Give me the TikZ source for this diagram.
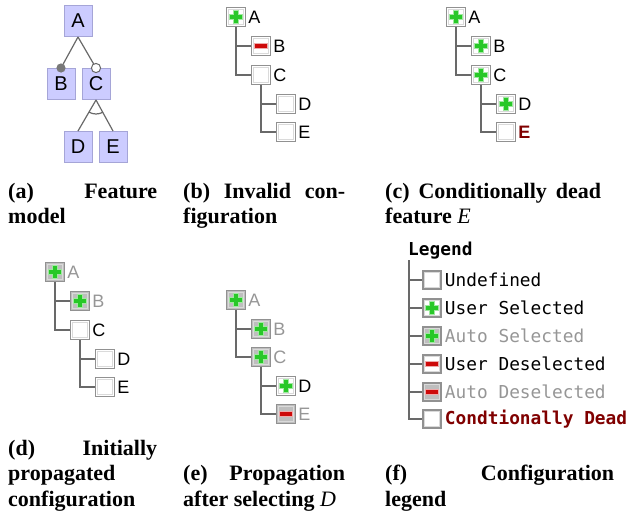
\documentclass[tikz,border=0pt]{standalone}
\usepackage{fontspec}
\setmainfont{Liberation Serif}
\setsansfont{Liberation Sans}
\setmonofont{DejaVu Sans Mono}
\usetikzlibrary{positioning}

\definecolor{fmfill}{RGB}{204,204,255}
\definecolor{fmedge}{RGB}{165,165,215}
\definecolor{linegray}{RGB}{105,105,105}
\definecolor{boxedge}{RGB}{145,145,145}
\definecolor{boxinner}{RGB}{218,218,218}
\definecolor{autofill}{RGB}{190,190,190}
\definecolor{plusgreen}{RGB}{40,200,40}
\definecolor{plushalo}{RGB}{160,232,160}
\definecolor{minusred}{RGB}{205,10,10}
\definecolor{minushalo}{RGB}{238,170,170}
\definecolor{autotext}{RGB}{150,150,150}
\definecolor{deadred}{RGB}{128,0,0}

\begin{document}
\begin{tikzpicture}[
        x=1pt, y=-1pt,
        feat/.style={draw=fmedge, fill=fmfill, line width=1pt, minimum width=28pt,
            minimum height=31pt, inner sep=0pt, font=\sffamily\fontsize{20}{20}\selectfont},
        fmline/.style={draw=linegray, line width=1.2pt},
        chk/.style={draw=boxedge, line width=1.5pt, fill=white, minimum size=19pt, inner sep=0pt},
        undef/.style={chk, path picture={\boxrim}},
        usersel/.style={chk, path picture={\boxrim\plusmark}},
        autosel/.style={chk, fill=autofill, path picture={\boxrim\plusmark}},
        userdesel/.style={chk, path picture={\boxrim\minusmark}},
        autodesel/.style={chk, fill=autofill, path picture={\boxrim\minusmark}},
        lbl/.style={font=\sffamily\fontsize{18}{18}\selectfont, inner sep=1pt},
        autolbl/.style={lbl, text=autotext},
        deadlbl/.style={lbl, text=deadred, font=\sffamily\bfseries\fontsize{18}{18}\selectfont},
        lgtext/.style={font=\ttfamily\fontsize{17.8}{17.8}\selectfont, inner sep=1pt},
        tree/.style={draw=linegray, line width=2.6pt},
        captext/.style={font=\bfseries\fontsize{22}{25}\selectfont, inner sep=0pt, anchor=base west}
    ]
    \def\boxrim{\draw[boxinner, line width=0.9pt]
        ([shift={(1.9pt,1.9pt)}]path picture bounding box.south west) rectangle
        ([shift={(-1.9pt,-1.9pt)}]path picture bounding box.north east);}
    \def\plusmark{%
        \draw[plushalo, line width=5.6pt]
            ([xshift=-6.8pt]path picture bounding box.center) -- ([xshift=6.8pt]path picture bounding box.center)
            ([yshift=-6.8pt]path picture bounding box.center) -- ([yshift=6.8pt]path picture bounding box.center);
        \draw[plusgreen, line width=3.4pt]
            ([xshift=-5.8pt]path picture bounding box.center) -- ([xshift=5.8pt]path picture bounding box.center)
            ([yshift=-5.8pt]path picture bounding box.center) -- ([yshift=5.8pt]path picture bounding box.center);}
    \def\minusmark{%
        \draw[minushalo, line width=5.2pt]
            ([xshift=-7pt]path picture bounding box.center) -- ([xshift=7pt]path picture bounding box.center);
        \draw[minusred, line width=3.2pt]
            ([xshift=-6.2pt]path picture bounding box.center) -- ([xshift=6.2pt]path picture bounding box.center);}

    \useasboundingbox (0,0) rectangle (631,517);

    % (a) feature model
    \node[feat] (fA) at (78,21) {A};
    \node[feat] (fB) at (61,84) {B};
    \node[feat] (fC) at (96,84) {C};
    \node[feat] (fD) at (78,147) {D};
    \node[feat] (fE) at (113,147) {E};
    \draw[fmline] (fA.south) -- (fB.north);
    \draw[fmline] (fA.south) -- (fC.north);
    \draw[fmline] (fC.south) -- (fD.north);
    \draw[fmline] (fC.south) -- (fE.north);
    \draw[fmline] ([shift={(-120:14pt)}]fC.south) arc[start angle=-120, end angle=-60, radius=14pt];
    \fill[linegray!90] (fB.north) circle (4.6pt);
    \filldraw[fill=white, draw=linegray, line width=1pt] (fC.north) circle (4.6pt);

    % (b) invalid configuration
    \node[usersel] (bA) at (236,17) {};
    \node[lbl, right=1pt of bA] (bAl) {A};
    \node[userdesel] (bB) at (261,46) {};
    \node[lbl, right=1pt of bB] (bBl) {B};
    \node[undef] (bC) at (261,75) {};
    \node[lbl, right=1pt of bC] (bCl) {C};
    \node[undef] (bD) at (286,104) {};
    \node[lbl, right=1pt of bD] (bDl) {D};
    \node[undef] (bE) at (286,132) {};
    \node[lbl, right=1pt of bE] (bEl) {E};
    \draw[tree] (bA.south) |- (bB.west);
    \draw[tree] (bA.south) |- (bC.west);
    \draw[tree] (bC.south) |- (bD.west);
    \draw[tree] (bC.south) |- (bE.west);

    % (c) conditionally dead
    \node[usersel] (cA) at (456,17) {};
    \node[lbl, right=1pt of cA] (cAl) {A};
    \node[usersel] (cB) at (481,46) {};
    \node[lbl, right=1pt of cB] (cBl) {B};
    \node[usersel] (cC) at (481,75) {};
    \node[lbl, right=1pt of cC] (cCl) {C};
    \node[usersel] (cD) at (506,104) {};
    \node[lbl, right=1pt of cD] (cDl) {D};
    \node[undef] (cE) at (506,132) {};
    \node[deadlbl, right=1pt of cE] (cEl) {E};
    \draw[tree] (cA.south) |- (cB.west);
    \draw[tree] (cA.south) |- (cC.west);
    \draw[tree] (cC.south) |- (cD.west);
    \draw[tree] (cC.south) |- (cE.west);

    % (d) initially propagated
    \node[autosel] (dA) at (55,272) {};
    \node[autolbl, right=1pt of dA] (dAl) {A};
    \node[autosel] (dB) at (80,301) {};
    \node[autolbl, right=1pt of dB] (dBl) {B};
    \node[undef] (dC) at (80,330) {};
    \node[lbl, right=1pt of dC] (dCl) {C};
    \node[undef] (dD) at (105,359) {};
    \node[lbl, right=1pt of dD] (dDl) {D};
    \node[undef] (dE) at (105,387) {};
    \node[lbl, right=1pt of dE] (dEl) {E};
    \draw[tree] (dA.south) |- (dB.west);
    \draw[tree] (dA.south) |- (dC.west);
    \draw[tree] (dC.south) |- (dD.west);
    \draw[tree] (dC.south) |- (dE.west);

    % (e) after selecting D
    \node[autosel] (eA) at (236,300) {};
    \node[autolbl, right=1pt of eA] (eAl) {A};
    \node[autosel] (eB) at (261,329) {};
    \node[autolbl, right=1pt of eB] (eBl) {B};
    \node[autosel] (eC) at (261,357) {};
    \node[autolbl, right=1pt of eC] (eCl) {C};
    \node[usersel] (eD) at (286,386) {};
    \node[lbl, right=1pt of eD] (eDl) {D};
    \node[autodesel] (eE) at (286,414) {};
    \node[autolbl, right=1pt of eE] (eEl) {E};
    \draw[tree] (eA.south) |- (eB.west);
    \draw[tree] (eA.south) |- (eC.west);
    \draw[tree] (eC.south) |- (eD.west);
    \draw[tree] (eC.south) |- (eE.west);

    % (f) legend
    \node[lgtext, font=\ttfamily\bfseries\fontsize{17.8}{17.8}\selectfont, anchor=base west] (lgT) at (407,255) {Legend};
    \coordinate (lgR) at (409,260);
    \node[undef, minimum size=18pt] (lg1) at (432,280) {};
    \node[lgtext, right=2pt of lg1] (lg1t) {Undefined};
    \node[usersel, minimum size=18pt] (lg2) at (432,308) {};
    \node[lgtext, right=2pt of lg2] (lg2t) {User Selected};
    \node[autosel, minimum size=18pt] (lg3) at (432,336) {};
    \node[lgtext, text=autotext, right=2pt of lg3] (lg3t) {Auto Selected};
    \node[userdesel, minimum size=18pt] (lg4) at (432,364) {};
    \node[lgtext, right=2pt of lg4] (lg4t) {User Deselected};
    \node[autodesel, minimum size=18pt] (lg5) at (432,392) {};
    \node[lgtext, text=autotext, right=2pt of lg5] (lg5t) {Auto Deselected};
    \node[undef, minimum size=18pt] (lg6) at (432,419) {};
    \node[lgtext, text=deadred, font=\ttfamily\bfseries\fontsize{17.8}{17.8}\selectfont, right=2pt of lg6] (lg6t) {Condtionally Dead};
    \draw[tree] (lgR) |- (lg1.west);
    \draw[tree] (lgR) |- (lg2.west);
    \draw[tree] (lgR) |- (lg3.west);
    \draw[tree] (lgR) |- (lg4.west);
    \draw[tree] (lgR) |- (lg5.west);
    \draw[tree] (lgR) |- (lg6.west);

    % captions
    \node[captext] (capA1) at (8,198) {\hbox to 149pt{(a)\hfill Feature}};
    \node[captext] (capA2) at (8,223) {model};
    \node[captext] (capB1) at (183,198) {\hbox to 162pt{(b)\hfill Invalid\hfill con-}};
    \node[captext] (capB2) at (183,223) {figuration};
    \node[captext] (capC1) at (385,198) {\hbox to 216pt{(c)\hfill Conditionally\hfill dead}};
    \node[captext] (capC2) at (385,223) {feature \textit{\mdseries E}};
    \node[captext] (capD1) at (8,455) {\hbox to 149pt{(d)\hfill Initially}};
    \node[captext] (capD2) at (8,480) {propagated};
    \node[captext] (capD3) at (8,506) {configuration};
    \node[captext] (capE1) at (183,480) {\hbox to 162pt{(e)\hfill Propagation}};
    \node[captext] (capE2) at (183,506) {after selecting \textit{\mdseries D}};
    \node[captext] (capF1) at (385,480) {\hbox to 229pt{(f)\hfill Configuration}};
    \node[captext] (capF2) at (385,506) {legend};
\end{tikzpicture}
\end{document}
